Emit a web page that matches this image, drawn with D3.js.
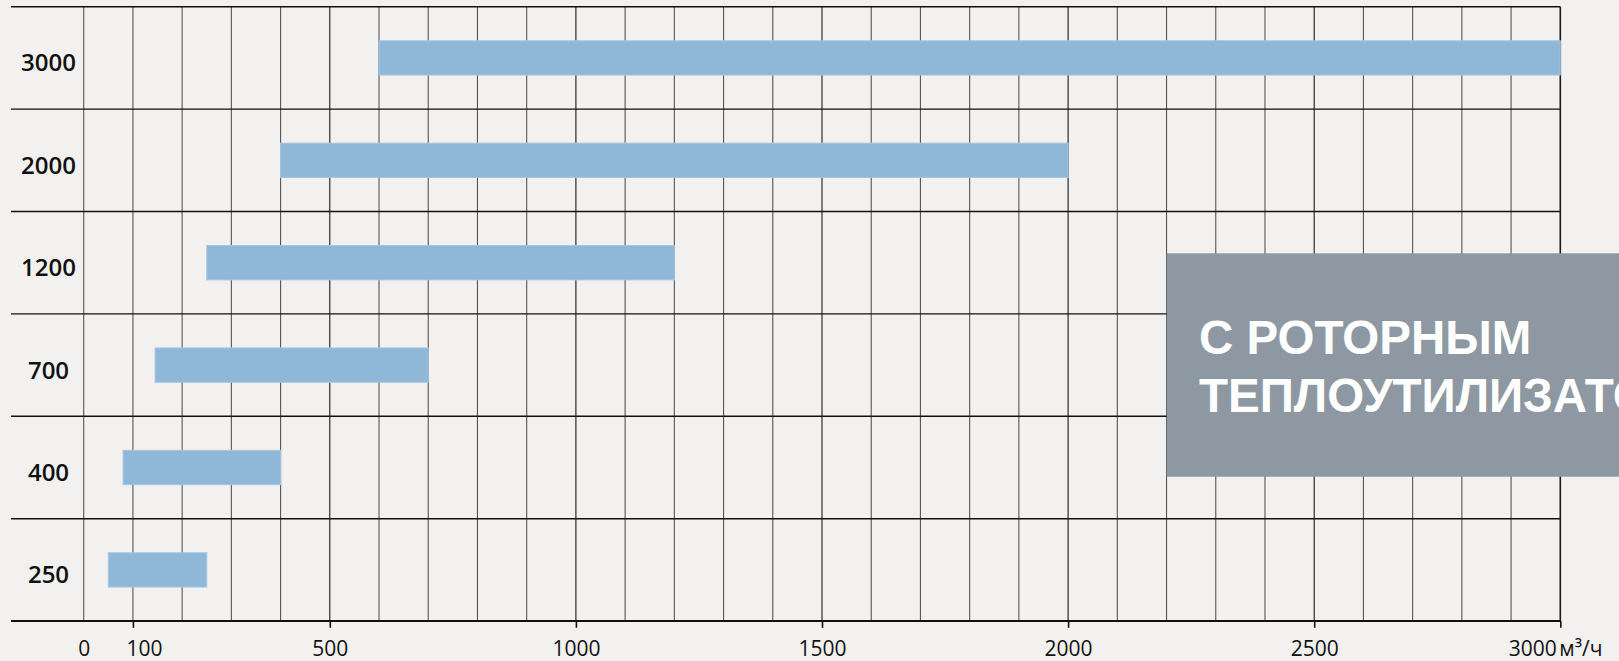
<!DOCTYPE html>
<html>
<head>
<meta charset="utf-8">
<script src="https://cdn.jsdelivr.net/npm/d3@7"></script>
<style>
  html, body { margin: 0; padding: 0; background: #f2f1ef; overflow: hidden; }
  svg { display: block; }
</style>
</head>
<body>
<svg id="chart" width="1619" height="661"></svg>
<script>
// ---- data ----
const categories = ["3000", "2000", "1200", "700", "400", "250"];
const rangeStart = [600, 400, 250, 145, 80, 50];
const rangeEnd   = [3000, 2000, 1200, 700, 400, 250];
const gridValues = d3.range(0, 3001, 100);
const tickValues = [0, 100, 500, 1000, 1500, 2000, 2500, 3000];
const unitLabel = "м³/ч";
const boxLines = ["С РОТОРНЫМ", "ТЕПЛОУТИЛИЗАТОРОМ"];

// ---- layout ----
const W = 1619, H = 661;
const mLeft = 83.7, mRight = 1560.3, mTop = 6.7, mBottom = 621.1, lineLeft = 11;

const svg = d3.select("#chart");
svg.append("rect").attr("width", W).attr("height", H).attr("fill", "#f2f1ef");

const x = d3.scaleLinear().domain([0, 3000]).range([mLeft, mRight]);
const y = d3.scaleBand().domain(categories).range([mTop, mBottom]).padding(0);
const barH = y.bandwidth() * 0.335;

// vertical grid
svg.append("g").selectAll("line").data(gridValues).join("line")
  .attr("x1", d => x(d)).attr("x2", d => x(d))
  .attr("y1", mTop).attr("y2", mBottom)
  .attr("stroke", d => d % 500 === 0 && d > 0 ? "#1a1a1a" : "#555")
  .attr("stroke-width", d => d === 3000 ? 1.6 : 1.1);

// horizontal row lines
const rowBounds = categories.map(c => y(c)).concat([mBottom]);
svg.append("g").selectAll("line").data(rowBounds).join("line")
  .attr("x1", lineLeft).attr("x2", mRight)
  .attr("y1", d => d).attr("y2", d => d)
  .attr("stroke", "#111")
  .attr("stroke-width", (d, i) => i === rowBounds.length - 1 ? 2 : 1.4);

// bars
svg.append("g").selectAll("rect").data(categories).join("rect")
  .attr("x", (d, i) => x(rangeStart[i]))
  .attr("width", (d, i) => x(rangeEnd[i]) - x(rangeStart[i]))
  .attr("y", d => y(d) + y.bandwidth() / 2 - barH / 2)
  .attr("height", barH)
  .attr("fill", "#8fb7d8")
  .attr("stroke", "#a9c5de")
  .attr("stroke-width", 1);

// category labels
svg.append("g").selectAll("text").data(categories).join("text")
  .attr("x", 48.5)
  .attr("y", d => y(d) + y.bandwidth() / 2 + 13.5)
  .attr("text-anchor", "middle")
  .attr("font-family", "'Open Sans', sans-serif")
  .attr("font-weight", 600)
  .attr("font-size", 24)
  .attr("fill", "#111")
  .text(d => d);

// x axis
const axis = d3.axisBottom(x).tickValues(tickValues).tickSize(6.7).tickFormat(d3.format("d"));
const ax = svg.append("g").attr("transform", `translate(0,${mBottom})`).call(axis);
ax.select(".domain").remove();
ax.selectAll(".tick line").attr("stroke", "#111").attr("stroke-width", 1.6)
  .attr("display", d => d === 0 ? "none" : null);
ax.selectAll(".tick text")
  .attr("y", 35).attr("dy", 0)
  .attr("font-family", "'Open Sans', sans-serif")
  .attr("font-size", 21)
  .attr("fill", "#111")
  .attr("text-anchor", d => d === 3000 ? "end" : "middle")
  .attr("dx", d => d === 100 ? 11 : (d === 3000 ? -4 : 0));

svg.append("text")
  .attr("x", x(3000) - 1).attr("y", mBottom + 35)
  .attr("font-family", "'Open Sans', sans-serif")
  .attr("font-size", 21)
  .attr("fill", "#111")
  .text(unitLabel);

// overlay box
svg.append("rect")
  .attr("x", 1166.7).attr("y", 253.3)
  .attr("width", W - 1166.7).attr("height", 223.4)
  .attr("fill", "#8e98a2");
svg.append("g").selectAll("text").data(boxLines).join("text")
  .attr("x", 1199)
  .attr("y", (d, i) => 354 + i * 57.7)
  .attr("font-family", "'Liberation Sans', Arial, sans-serif")
  .attr("font-weight", 700)
  .attr("font-size", 47.5)
  .attr("fill", "#ffffff")
  .text(d => d);
</script>
</body>
</html>
